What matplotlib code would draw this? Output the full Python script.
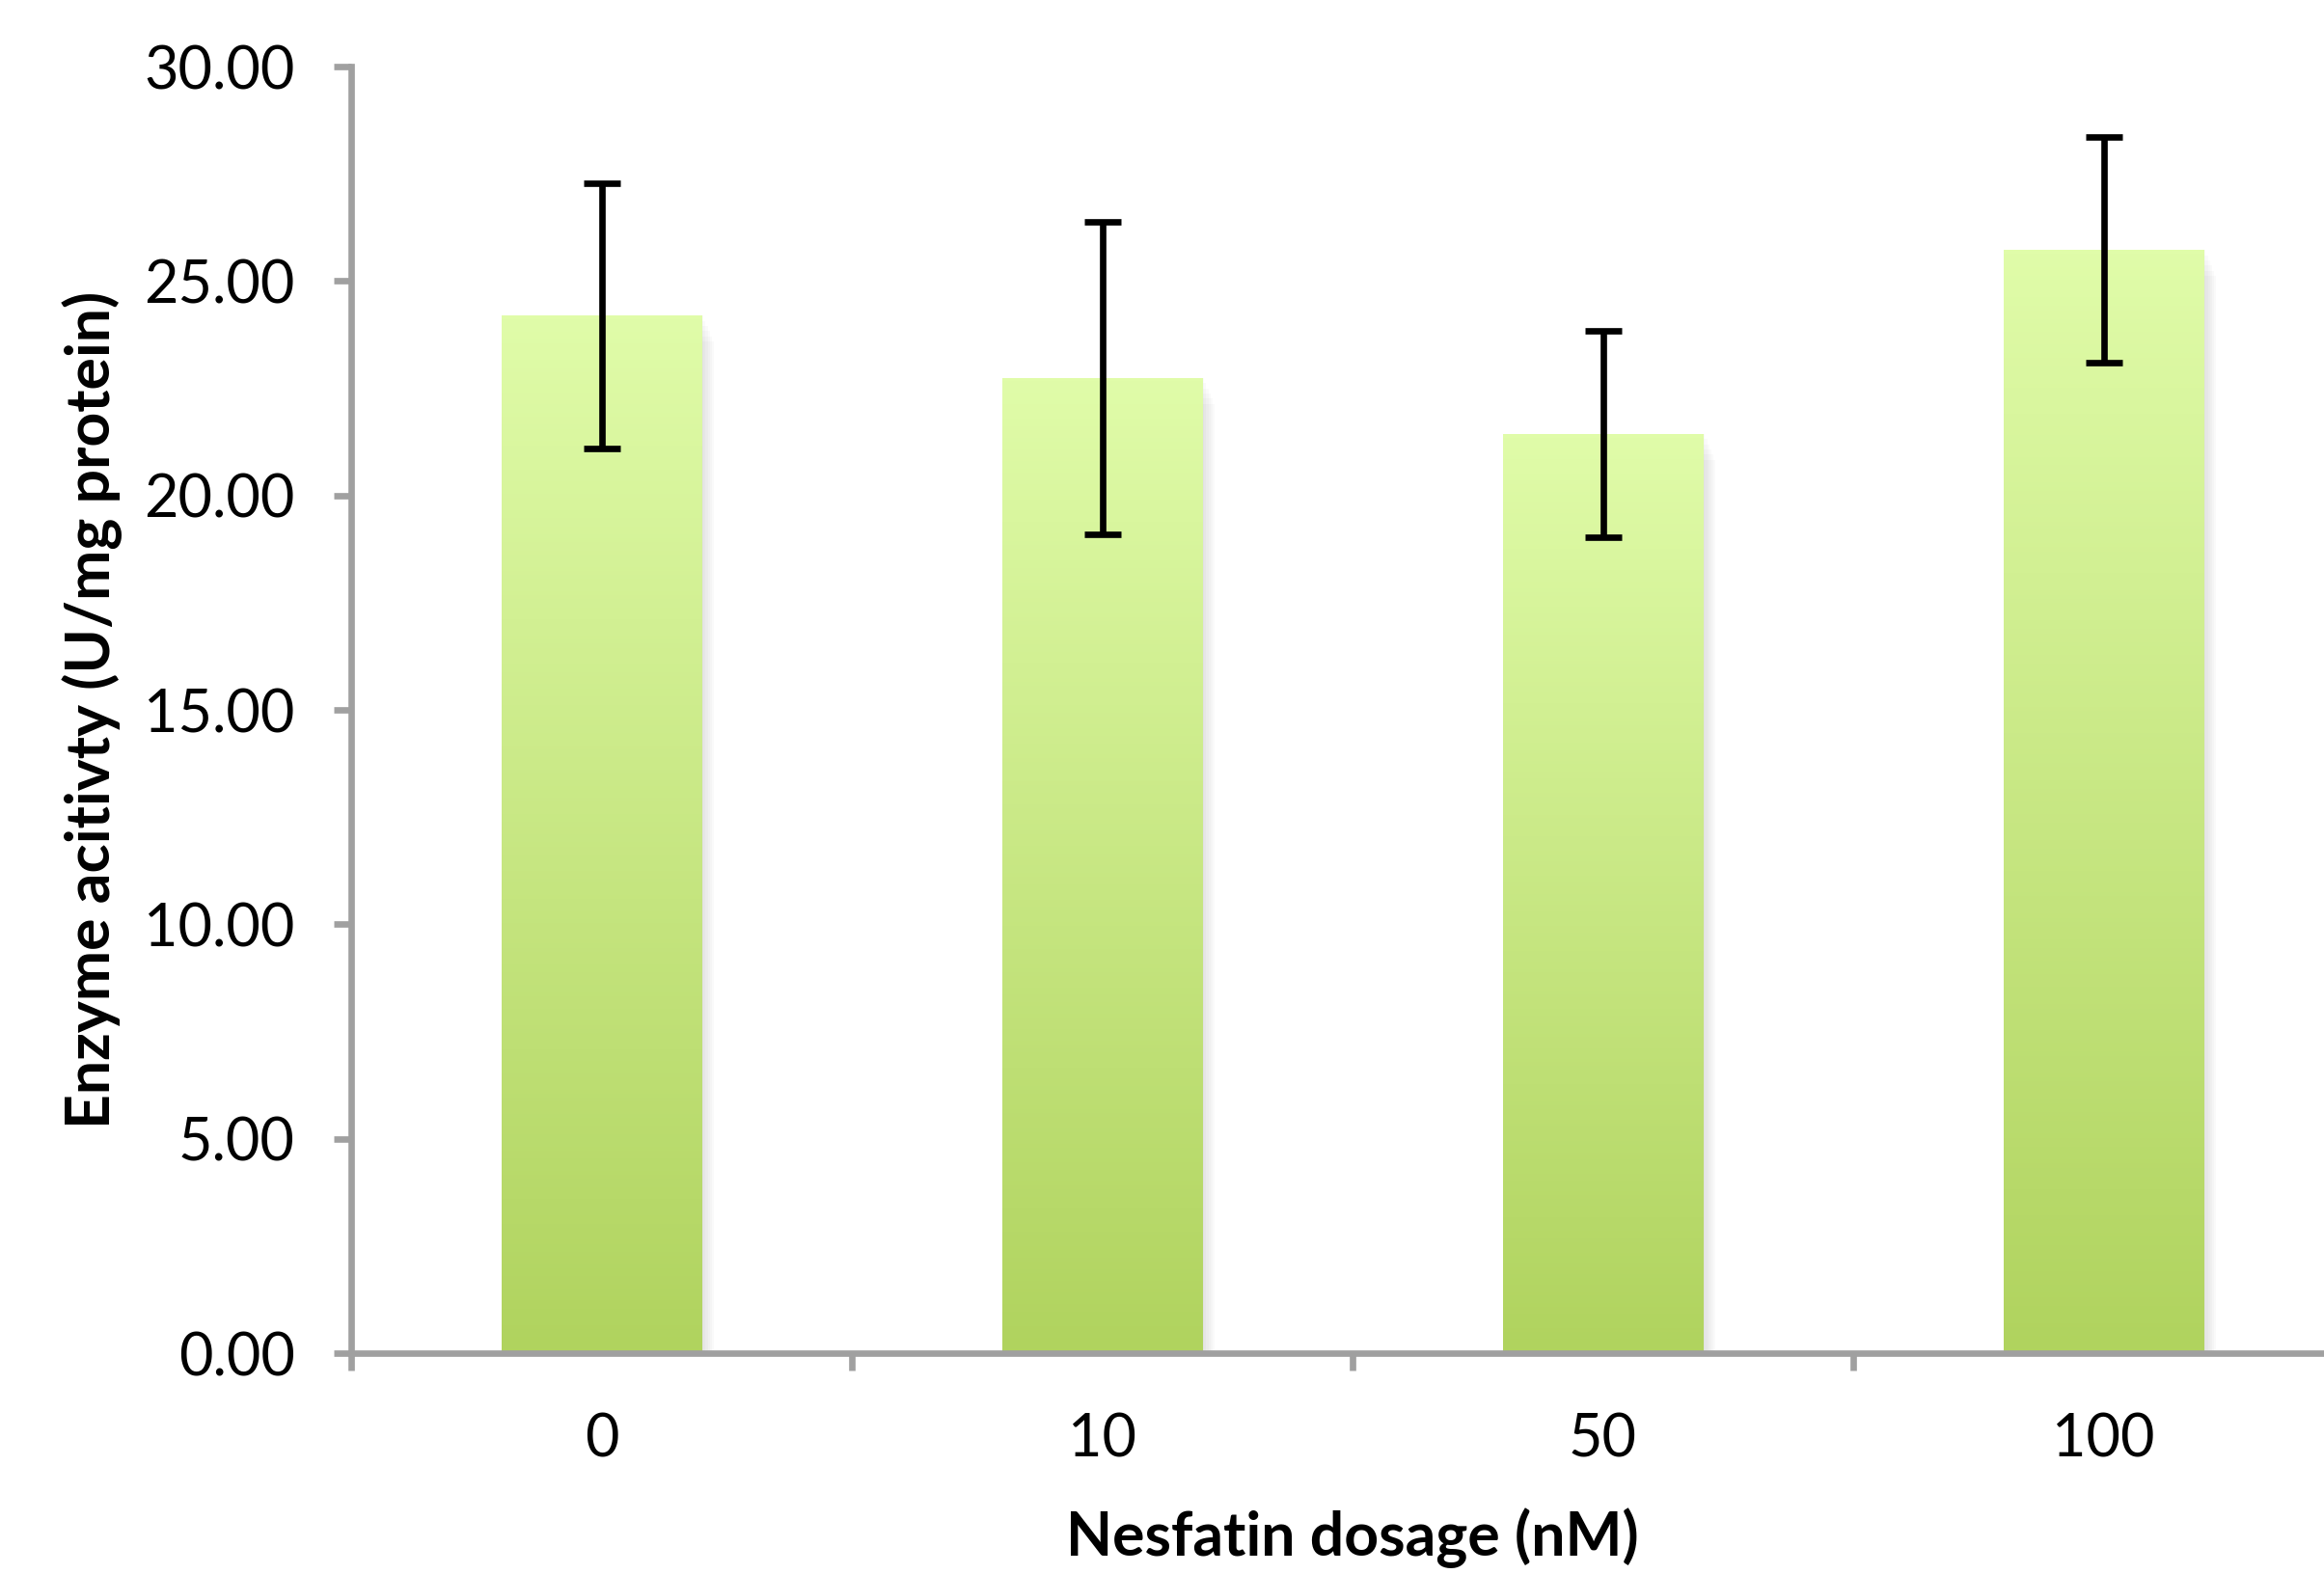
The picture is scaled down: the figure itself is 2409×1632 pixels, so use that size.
import numpy as np
import matplotlib
matplotlib.use('Agg')
import matplotlib.pyplot as plt
from matplotlib.patches import Rectangle
from matplotlib.colors import LinearSegmentedColormap

# data
dosages = ['0', '10', '50', '100']
activity = [24.19, 22.74, 21.43, 25.72]
errors = [3.10, 3.65, 2.40, 2.63]

plt.rcParams['font.family'] = ['Lato', 'DejaVu Sans']

fig = plt.figure(figsize=(24.09, 16.32), dpi=100)
ax = fig.add_axes([0.1511, 0.1403, 0.8618, 0.8174])

pos = np.arange(len(dosages)) + 0.5
bw = 0.40
grad = LinearSegmentedColormap.from_list('g', ['#b0d35e', '#e0fca9'])
img = np.linspace(0, 1, 256).reshape(-1, 1)

for x, v in zip(pos, activity):
    # soft shadow
    for k in range(6):
        ax.add_patch(Rectangle((x - bw / 2 + 0.004 * k, 0), bw + 0.004, v - 0.12 * k,
                               facecolor='black', alpha=0.02, edgecolor='none', zorder=1))
    bar = Rectangle((x - bw / 2, 0), bw, v, facecolor='none', edgecolor='none', zorder=2)
    ax.add_patch(bar)
    im = ax.imshow(img, cmap=grad, origin='lower', aspect='auto',
                   extent=(x - bw / 2, x + bw / 2, 0, v), zorder=2)
    im.set_clip_path(bar)

ax.errorbar(pos, activity, yerr=errors, fmt='none', ecolor='black',
            elinewidth=4.8, capsize=14, capthick=4.8, zorder=4)

ax.set_xlim(0, 4)
ax.set_ylim(0, 30)
ax.set_yticks(np.arange(0, 30.1, 5))
ax.set_yticklabels(['%.2f' % t for t in np.arange(0, 30.1, 5)])
ax.set_xticks(np.arange(0, 5))
ax.set_xticklabels([])
ax.set_xticks(pos, minor=True)
ax.set_xticklabels(dosages, minor=True)

for s in ['top', 'right']:
    ax.spines[s].set_visible(False)
for s in ['left', 'bottom']:
    ax.spines[s].set_color('#a0a0a0')
    ax.spines[s].set_linewidth(4.8)
ax.spines['left'].set_zorder(5)
ax.spines['bottom'].set_zorder(5)

ax.tick_params(axis='y', direction='out', length=13, width=4.8, color='#a0a0a0',
               labelsize=44, pad=29)
ax.tick_params(axis='x', which='major', direction='out', length=13, width=4.8,
               color='#a0a0a0')
ax.tick_params(axis='x', which='minor', length=0, labelsize=44, pad=44)

ax.set_ylabel('Enzyme acitivty (U/mg protein)', fontsize=45, fontweight='bold', labelpad=16)
ax.set_xlabel('Nesfatin dosage (nM)', fontsize=45, fontweight='bold', labelpad=30)

fig.savefig('out.png', dpi=100)
